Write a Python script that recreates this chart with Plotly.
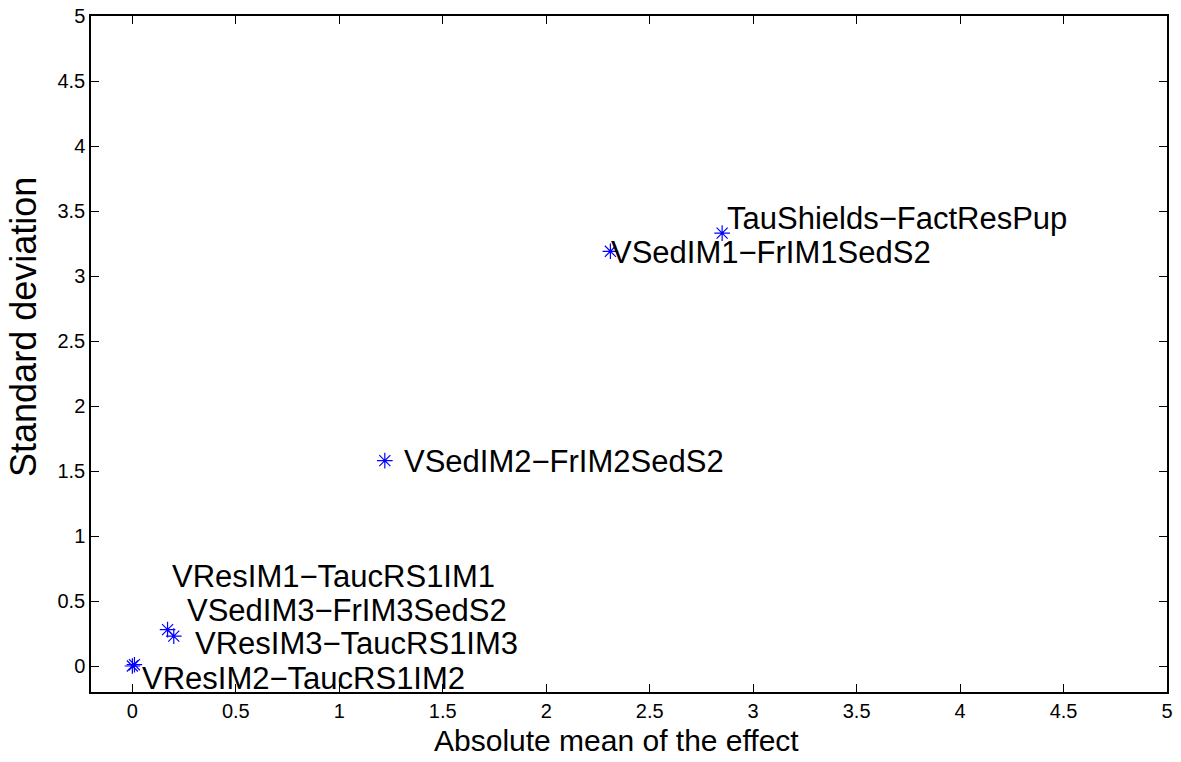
import plotly.graph_objects as go

# Data
names = [
    "TauShields\u2212FactResPup",
    "VSedIM1\u2212FrIM1SedS2",
    "VSedIM2\u2212FrIM2SedS2",
    "VResIM1\u2212TaucRS1IM1",
    "VSedIM3\u2212FrIM3SedS2",
    "VResIM3\u2212TaucRS1IM3",
    "VResIM2\u2212TaucRS1IM2",
]
abs_mean = [2.85, 2.31, 1.22, 0.17, 0.20, 0.01, 0.00]
std_dev = [3.33, 3.19, 1.58, 0.28, 0.23, 0.01, 0.00]
tick_vals = [0, 0.5, 1, 1.5, 2, 2.5, 3, 3.5, 4, 4.5, 5]
tick_text = ["0", "0.5", "1", "1.5", "2", "2.5", "3", "3.5", "4", "4.5", "5"]
x_title = "Absolute mean of the effect"
y_title = "Standard deviation"

# Label offsets in pixels (style, not data)
label_shift = [(4, 15), (0, -1), (18, -1), (3, 53), (12, 26), (60, 21), (9, -12)]

FONT = "Liberation Sans, Arial, Helvetica, sans-serif"

fig = go.Figure()
fig.add_trace(go.Scatter(
    x=abs_mean, y=std_dev, mode="markers",
    marker=dict(symbol="asterisk-open", size=13, color="#0000ff",
                line=dict(color="#0000ff", width=1.2)),
    showlegend=False, hoverinfo="skip", cliponaxis=False,
))

annotations = []
for xv, yv, name, (dx, dy) in zip(abs_mean, std_dev, names, label_shift):
    annotations.append(dict(
        x=xv, y=yv, xref="x", yref="y", text=name, showarrow=False,
        xanchor="left", yanchor="middle", xshift=dx, yshift=dy,
        font=dict(family=FONT, size=31, color="black"), borderpad=0,
    ))

# Axis titles placed as paper annotations
annotations.append(dict(
    x=0.488, y=0, xref="paper", yref="paper", text=x_title, showarrow=False,
    xanchor="center", yanchor="middle", yshift=-48,
    font=dict(family=FONT, size=30, color="black"),
))
annotations.append(dict(
    x=0, y=0.54, xref="paper", yref="paper", text=y_title, showarrow=False,
    xanchor="center", yanchor="middle", xshift=-67, textangle=-90,
    font=dict(family=FONT, size=36, color="black"),
))

axis_common = dict(
    showgrid=False, zeroline=False, showline=True, linecolor="black",
    linewidth=1.5, mirror="ticks", ticks="inside", ticklen=8, tickwidth=1,
    tickcolor="black", tickvals=tick_vals, ticktext=tick_text,
    tickfont=dict(family=FONT, size=20, color="black"), automargin=False,
)

fig.update_layout(
    width=1181, height=762,
    paper_bgcolor="white", plot_bgcolor="white",
    margin=dict(l=91, r=14, t=16, b=70),
    xaxis=dict(range=[-0.2, 5], **axis_common),
    yaxis=dict(range=[-0.2, 5], **axis_common),
    annotations=annotations,
)

fig.write_html("out.html", config={"displayModeBar": False},
               post_script="document.body.style.margin='0';")
